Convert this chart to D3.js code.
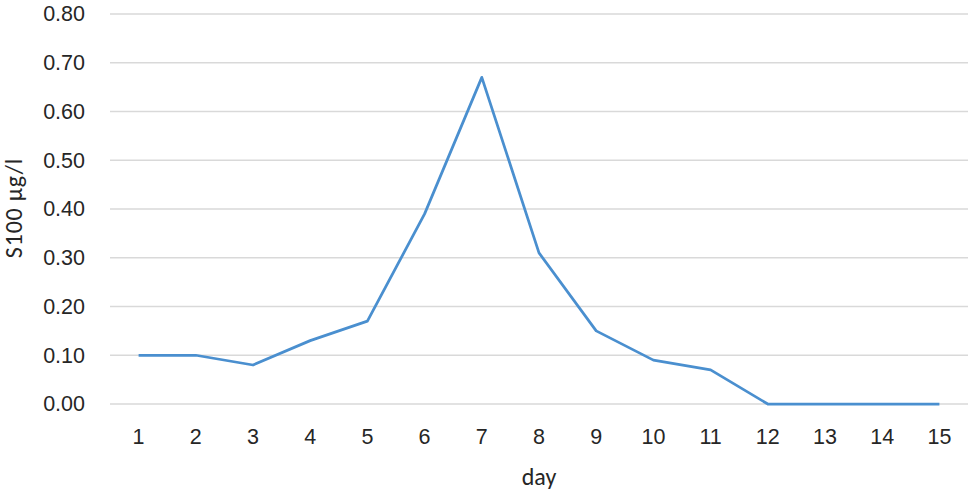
<!DOCTYPE html>
<html>
<head>
<meta charset="utf-8">
<script src="https://cdn.jsdelivr.net/npm/d3@7"></script>
<style>
  html, body { margin: 0; padding: 0; background: #fff; }
  svg { display: block; font-family: Carlito, Lato, "Open Sans", sans-serif; }
  .tick text { fill: #262626; font-size: 21.5px; }
  .axis-label { fill: #262626; font-size: 24px; }
</style>
</head>
<body>
<svg id="chart"></svg>
<script>
const days = ["1", "2", "3", "4", "5", "6", "7", "8", "9", "10", "11", "12", "13", "14", "15"];
const s100 = [0.10, 0.10, 0.08, 0.13, 0.17, 0.39, 0.67, 0.31, 0.15, 0.09, 0.07, 0, 0, 0, 0];
const yTicks = [0, 0.1, 0.2, 0.3, 0.4, 0.5, 0.6, 0.7, 0.8];

const width = 968;
const height = 497;
const margin = { top: 14, right: 0, bottom: 93, left: 110 };
const chartWidth = width - margin.left - margin.right;
const chartHeight = height - margin.top - margin.bottom;

const svg = d3.select("#chart").attr("width", width).attr("height", height);
const chart = svg.append("g").attr("transform", `translate(${margin.left},${margin.top})`);

const x = d3.scaleBand().domain(days).range([0, chartWidth]);
const y = d3.scaleLinear().domain([0, 0.8]).range([chartHeight, 0]);

// gridlines
chart.append("g")
    .selectAll("line")
    .data(yTicks)
    .join("line")
    .attr("x1", 0)
    .attr("x2", chartWidth)
    .attr("y1", (d) => y(d))
    .attr("y2", (d) => y(d))
    .attr("stroke", "#d9d9d9")
    .attr("stroke-width", 1.5);

const yAxis = chart.append("g")
    .call(d3.axisLeft(y).tickValues(yTicks).tickFormat(d3.format(".2f")).tickSize(0).tickPadding(25));
yAxis.select(".domain").remove();

const xAxis = chart.append("g")
    .attr("transform", `translate(0,${chartHeight})`)
    .call(d3.axisBottom(x).tickSize(0).tickPadding(25));
xAxis.select(".domain").remove();

const line = d3.line()
    .x((d, i) => x(days[i]) + x.bandwidth() / 2)
    .y((d) => y(d));

chart.append("path")
    .datum(s100)
    .attr("fill", "none")
    .attr("stroke", "#4a8fcf")
    .attr("stroke-width", 2.75)
    .attr("stroke-linejoin", "round")
    .attr("d", line);

svg.append("text")
    .attr("class", "axis-label")
    .attr("x", 539)
    .attr("y", 485)
    .attr("text-anchor", "middle")
    .text("day");

svg.append("text")
    .attr("class", "axis-label")
    .attr("transform", `translate(22,208) rotate(-90)`)
    .attr("text-anchor", "middle")
    .attr("letter-spacing", 0.8)
    .text("S100 μg/l");
</script>
</body>
</html>
